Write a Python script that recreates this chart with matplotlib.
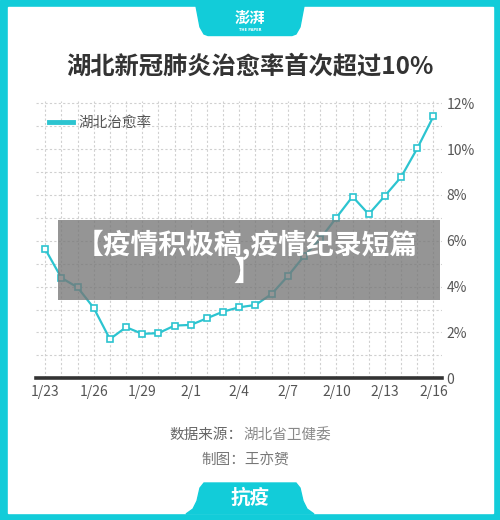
import matplotlib
matplotlib.use('Agg')
import matplotlib.pyplot as plt
from matplotlib.patches import Rectangle, Polygon
from matplotlib.lines import Line2D

plt.rcParams['font.family'] = ['Noto Sans CJK SC', 'DejaVu Sans']

# ---- data ----
dates = ['1/23', '1/24', '1/25', '1/26', '1/27', '1/28', '1/29', '1/30', '1/31',
         '2/1', '2/2', '2/3', '2/4', '2/5', '2/6', '2/7', '2/8', '2/9', '2/10',
         '2/11', '2/12', '2/13', '2/14', '2/15', '2/16']
cure_rate = [5.64, 4.38, 3.97, 3.07, 1.71, 2.23, 1.94, 1.97, 2.30, 2.33, 2.62, 2.91,
             3.10, 3.20, 3.68, 4.46, 5.33, 6.08, 7.01, 7.93, 7.16, 7.96, 8.78, 10.03, 11.43]
series_name = '湖北治愈率'
title = '湖北新冠肺炎治愈率首次超过10%'
y_ticks = [0, 2, 4, 6, 8, 10, 12]
y_tick_labels = ['0', '2%', '4%', '6%', '8%', '10%', '12%']
x_tick_labels = dates[::3]
source_label = '数据来源：'
source_value = '湖北省卫健委'
author = '制图：王亦赟'
overlay_lines = ['【疫情积极稿,疫情纪录短篇', '】']

TEAL = '#12CCD9'
LINE = '#2CC4D0'
W, H = 500, 520

fig = plt.figure(figsize=(W / 100, H / 100), dpi=100)

# ---- background frame ----
bg = fig.add_axes([0, 0, 1, 1], zorder=-5)
bg.set_xlim(0, W)
bg.set_ylim(H, 0)
bg.axis('off')
bg.add_patch(Rectangle((0, 0), W, H, color=TEAL))
bg.add_patch(Rectangle((8, 7), 484.5, 505.5, color='white'))
bg.add_patch(Polygon([(196, 6), (304, 6), (300, 27), (296, 34), (292, 35.5),
                      (208, 35.5), (204, 34), (200, 27)], closed=True, color=TEAL))
bg.add_patch(Polygon([(186, 514), (314, 514), (307, 509), (303, 501), (300, 488),
                      (296, 483), (204, 483), (200, 488), (197, 501), (193, 509)],
                     closed=True, color=TEAL))
bg.text(250, 18, '澎湃', color='white', fontsize=11, fontweight='bold',
        ha='center', va='center')
bg.text(250, 30, 'THE PAPER', color='white', fontsize=2.6, fontweight='bold',
        ha='center', va='center', family='DejaVu Sans')
bg.text(250, 498, '抗疫', color='white', fontsize=14, fontweight='bold',
        ha='center', va='center')

# ---- title / footer ----
fig.text(250 / W, 1 - 67 / H, title, fontsize=17.5, fontweight='bold',
         color='#333333', ha='center', va='center')
fig.text(243 / W, 1 - 435 / H, source_label, fontsize=10.5, color='#666666',
         ha='right', va='center', fontweight='medium')
fig.text(243 / W, 1 - 435 / H, source_value, fontsize=10.5, color='#888888',
         ha='left', va='center')
fig.text(245 / W, 1 - 461 / H, author, fontsize=10.5, color='#777777',
         ha='center', va='center')

# ---- chart ----
left, right, top, bottom = 35.5, 441.5, 101.0, 378.3
ax = fig.add_axes([left / W, 1 - bottom / H, (right - left) / W, (bottom - top) / H])
x = list(range(len(dates)))
ax.plot(x, cure_rate, color=LINE, lw=1.6, marker='s', markersize=4.2,
        markerfacecolor='white', markeredgecolor=LINE, markeredgewidth=1.2,
        zorder=5, clip_on=False)
ax.set_xlim(-0.6, len(dates) - 0.5)
ax.set_ylim(0, 12.1)

ax.set_xticks(x[::3])
ax.set_xticklabels(x_tick_labels)
ax.set_xticks(x, minor=True)
ax.set_yticks(y_ticks)
ax.set_yticklabels(y_tick_labels)
ax.set_yticks(list(range(1, 12, 2)), minor=True)
ax.yaxis.tick_right()
ax.tick_params(axis='both', which='both', length=0, colors='#555555', labelsize=10)
ax.tick_params(axis='x', pad=5)
ax.tick_params(axis='y', pad=3.5)
ax.grid(True, which='both', color='#d0d0d0', lw=0.8, linestyle=(0, (2, 2)))
ax.set_axisbelow(True)
for s in ax.spines.values():
    s.set_visible(False)
ax.axhline(0, color='#333333', lw=2.6, zorder=6, clip_on=False)

handle = Line2D([], [], color=LINE, lw=3.5)
ax.legend([handle], [series_name], loc='center left', frameon=False,
          bbox_to_anchor=(49 / W, 1 - 123 / H), bbox_transform=fig.transFigure,
          borderpad=0, borderaxespad=0, handlelength=1.65, handletextpad=0.35,
          prop={'size': 10.5}, labelcolor='#555555')

# ---- overlay ----
ov = fig.add_axes([0, 0, 1, 1], zorder=10)
ov.set_xlim(0, W)
ov.set_ylim(H, 0)
ov.axis('off')
ov.patch.set_alpha(0)
ov.add_patch(Rectangle((58.3, 220), 381.7, 80, color='#777777', alpha=0.78, lw=0))
ov.text(247, 245, overlay_lines[0], color='white', fontsize=20, fontweight='bold',
        ha='center', va='center')
ov.text(247, 273, overlay_lines[1], color='white', fontsize=20, fontweight='bold',
        ha='center', va='center')

fig.savefig('out.png', dpi=100)
